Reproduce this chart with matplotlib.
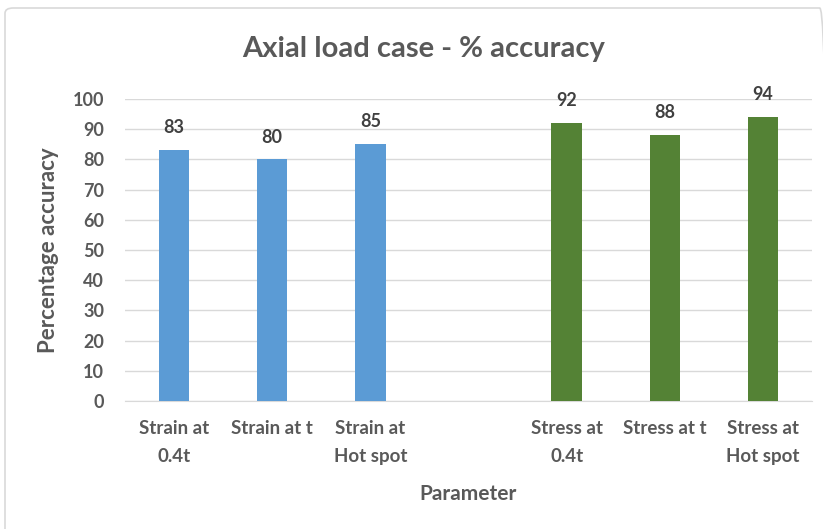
import numpy as np
import matplotlib.pyplot as plt
from matplotlib.patches import FancyBboxPatch

# data
categories = ["Strain at\n0.4t", "Strain at t", "Strain at\nHot spot", "",
              "Stress at\n0.4t", "Stress at t", "Stress at\nHot spot"]
strain_vals = [83, 80, 85]
stress_vals = [92, 88, 94]

plt.rcParams['font.family'] = ['Lato', 'DejaVu Sans']
txt = "#595959"

fig = plt.figure(figsize=(8.23, 5.29), dpi=100)
ax = fig.add_axes([125 / 823, 1 - 401 / 529, 687 / 823, 302 / 529])

x = np.arange(len(categories))
strain_x = x[:3]
stress_x = x[4:]
w = 0.31
b1 = ax.bar(strain_x, strain_vals, width=w, color="#5B9BD5", zorder=3)
b2 = ax.bar(stress_x, stress_vals, width=w, color="#548235", zorder=3)

for bars in (b1, b2):
    for r in bars:
        ax.annotate(f"{r.get_height():.0f}", (r.get_x() + r.get_width() / 2, r.get_height()),
                    xytext=(0, 10), textcoords="offset points", ha="center", va="bottom",
                    fontsize=13, fontweight="bold", color="#404040")

ax.set_xlim(-0.5, 6.5)
ax.set_ylim(0, 100)
ax.set_yticks(range(0, 101, 10))
ax.set_xticks(x)
ax.set_xticklabels(categories, fontsize=13.5, color=txt, fontweight="bold", linespacing=1.75)
ax.tick_params(axis="y", labelsize=13, colors=txt, length=0, pad=15)
ax.tick_params(axis="x", length=0, pad=14)
for t in ax.get_yticklabels():
    t.set_fontweight("bold")
ax.grid(axis="y", color="#D9D9D9", linewidth=1, zorder=0)
for s in ["top", "right", "left"]:
    ax.spines[s].set_visible(False)
ax.spines["bottom"].set_color("#D9D9D9")

ax.set_ylabel("Percentage accuracy", fontsize=16, fontweight="bold", color=txt, labelpad=10)
ax.set_xlabel("Parameter", fontsize=15, fontweight="bold", color=txt, labelpad=14)
fig.text(424 / 823, 1 - 49 / 529, "Axial load case - % accuracy", ha="center", va="center",
         fontsize=21, fontweight="bold", color=txt)

# chart border
border = FancyBboxPatch((5 / 823, -0.02), 1.0, 1 - 8 / 529 + 0.02, boxstyle="round,pad=0,rounding_size=0.01",
                        transform=fig.transFigure, fill=False, edgecolor="#D9D9D9", linewidth=1.2)
fig.patches.append(border)

fig.savefig("out.png", dpi=100)
